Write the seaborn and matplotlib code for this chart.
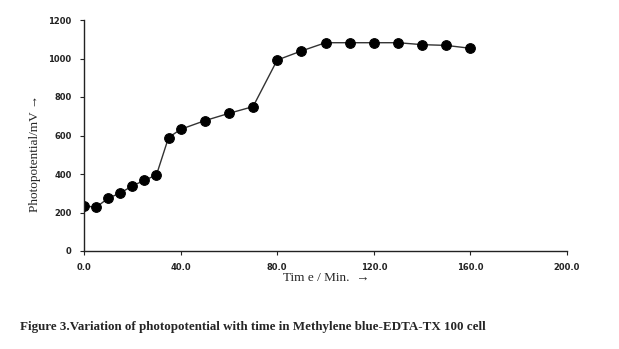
import matplotlib
matplotlib.use("Agg")
import matplotlib.pyplot as plt
import seaborn as sns
import pandas as pd

time_min = [0, 5, 10, 15, 20, 25, 30, 35, 40, 50, 60, 70, 80, 90, 100, 110, 120, 130, 140, 150, 160]
photopotential = [235, 227, 274, 301, 338, 367, 395, 589, 632, 677, 715, 750, 992, 1039, 1082, 1082, 1082, 1082, 1072, 1068, 1053]
x_ticks = [0, 40, 80, 120, 160, 200]
y_ticks = [0, 200, 400, 600, 800, 1000, 1200]

df = pd.DataFrame({"t": time_min, "v": photopotential})

sns.set_theme(style="white")
plt.rcParams['font.family'] = ['Liberation Serif', 'DejaVu Serif']

fig = plt.figure(figsize=(6.19, 3.49), dpi=100)
ax = fig.add_axes([84/619, 1-251/349, (567-84)/619, (251-20)/349])

sns.lineplot(data=df, x="t", y="v", ax=ax, color="#333333", linewidth=1.0,
             marker="o", markersize=7, markerfacecolor="black",
             markeredgecolor="black")

ax.set_xlim(0, 200)
ax.set_ylim(0, 1200)
ax.set_xticks(x_ticks)
ax.set_xticklabels([f"{v:.1f}" for v in x_ticks], fontsize=6, fontweight="bold",
                   family=['DejaVu Sans'], color="#333333")
ax.set_yticks(y_ticks)
ax.set_yticklabels([str(v) for v in y_ticks], fontsize=6, fontweight="bold",
                   family=['DejaVu Sans'], color="#333333")
ax.tick_params(axis="both", which="both", direction="out", length=3, width=0.8,
               colors="#222222", pad=6, bottom=True, left=True)
for s in ["top", "right"]:
    ax.spines[s].set_visible(False)
for s in ["left", "bottom"]:
    ax.spines[s].set_color("#222222")
    ax.spines[s].set_linewidth(1.0)

ax.set_xlabel("")
ax.set_ylabel("")
fig.text(326/619, 1-278/349, "Tim e / Min.  \u2192", ha="center", va="center",
         fontsize=9.5, family=['Liberation Serif', 'DejaVu Serif'])
fig.text(35/619, 1-153/349, "Photopotential/mV \u2192", ha="center", va="center",
         rotation=90, fontsize=9.5, family=['Liberation Serif', 'DejaVu Serif'])
fig.text(20/619, 1-327/349,
         "Figure 3.Variation of photopotential with time in Methylene blue-EDTA-TX 100 cell",
         ha="left", va="center", fontsize=9.4, fontweight="bold",
         family=['Liberation Serif', 'DejaVu Serif'])

fig.savefig("out.png", dpi=100)
